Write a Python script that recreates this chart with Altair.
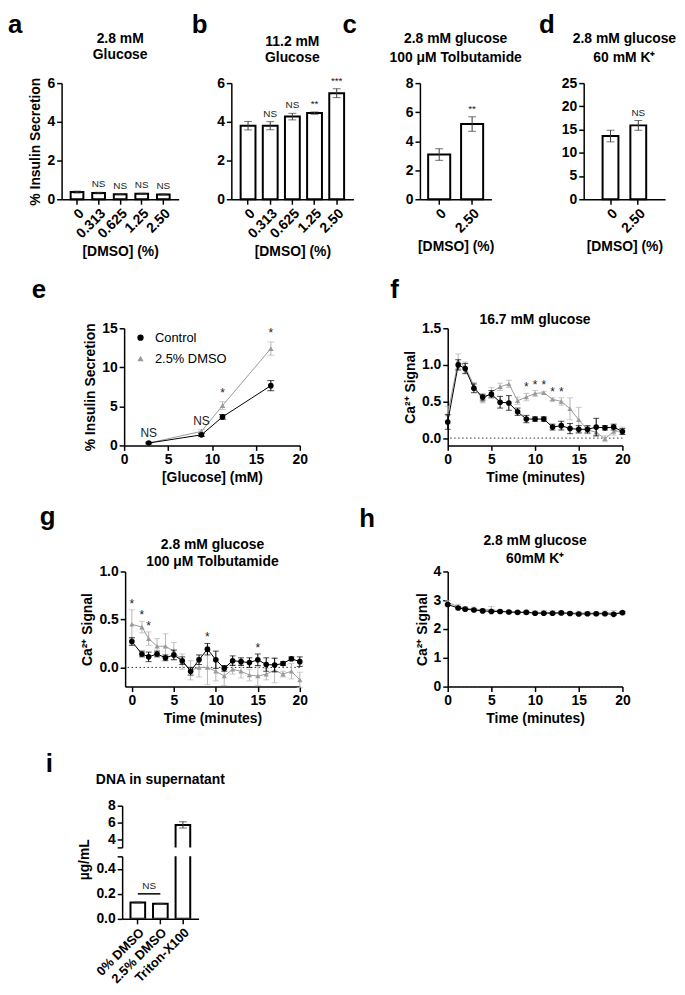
import altair as alt
import pandas as pd

FONT = "Liberation Sans"
BLACK = "#000000"
GRAY = "#9a9a9a"
GRAY_ERR = "#b5b5b5"
ERR_DARK = "#3a3a3a"

# ---------------- data ----------------
dmso_ab = ["0", "0.313", "0.625", "1.25", "2.50"]
a_mean = [0.37, 0.32, 0.26, 0.28, 0.25]
a_err = [0.05, 0.04, 0.03, 0.03, 0.03]
a_sig = ["", "NS", "NS", "NS", "NS"]

b_mean = [3.80, 3.80, 4.27, 4.45, 5.48]
b_err = [0.22, 0.21, 0.17, 0.06, 0.23]
b_sig = ["", "NS", "NS", "**", "***"]

dmso_cd = ["0", "2.50"]
c_mean = [3.08, 5.18]
c_err = [0.40, 0.50]
c_sig = ["", "**"]

d_mean = [13.6, 15.9]
d_err = [1.25, 1.05]
d_sig = ["", "NS"]

glucose = [2.8, 8.8, 11.2, 16.7]
e_ctrl = [0.30, 1.35, 3.65, 7.65]
e_ctrl_err = [0.10, 0.20, 0.30, 0.65]
e_dmso = [0.30, 1.80, 5.10, 12.40]
e_dmso_err = [0.10, 0.20, 0.50, 0.85]
e_sig = ["NS", "NS", "*", "*"]
series_names = ["Control", "2.5% DMSO"]

minutes = [0, 1.2, 2, 3, 4, 5, 6, 7, 8, 9, 10, 11, 12, 13, 14, 15, 16, 17, 18, 19, 20]

f_ctrl = [0.22, 1.00, 0.95, 0.68, 0.56, 0.60, 0.49, 0.48, 0.36, 0.26, 0.26,
          0.26, 0.15, 0.17, 0.13, 0.12, 0.12, 0.15, 0.14, 0.15, 0.09]
f_ctrl_err = [0.10, 0.07, 0.07, 0.06, 0.04, 0.05, 0.08, 0.10, 0.05, 0.05, 0.03,
              0.03, 0.04, 0.06, 0.07, 0.05, 0.05, 0.12, 0.03, 0.04, 0.04]
f_dmso = [0.33, 1.05, 0.97, 0.72, 0.52, 0.63, 0.70, 0.74, 0.51, 0.56, 0.61,
          0.62, 0.53, 0.50, 0.40, 0.25, 0.11, 0.08, -0.01, 0.09, 0.10]
f_dmso_err = [0.10, 0.10, 0.07, 0.04, 0.04, 0.06, 0.05, 0.05, 0.05, 0.05, 0.04,
              0.02, 0.02, 0.05, 0.15, 0.17, 0.05, 0.05, 0.04, 0.05, 0.05]
f_sig_t = [9, 10, 11, 12, 13]

g_ctrl = [0.27, 0.14, 0.11, 0.14, 0.10, 0.13, 0.07, -0.04, 0.08, 0.19, 0.08,
          -0.01, 0.07, 0.06, 0.05, 0.08, 0.03, 0.025, 0.04, 0.09, 0.06]
g_ctrl_err = [0.04, 0.03, 0.05, 0.03, 0.03, 0.05, 0.04, 0.04, 0.05, 0.06, 0.09,
              0.03, 0.05, 0.04, 0.05, 0.06, 0.07, 0.07, 0.02, 0.02, 0.05]
g_dmso = [0.45, 0.42, 0.30, 0.22, 0.22, 0.17, 0.06, -0.03, 0.00, 0.00, -0.04,
          -0.09, -0.02, -0.04, -0.08, -0.09, -0.07, -0.03, -0.07, -0.04, -0.13]
g_dmso_err = [0.15, 0.06, 0.07, 0.08, 0.13, 0.09, 0.08, 0.10, 0.10, 0.18, 0.10,
              0.10, 0.05, 0.07, 0.06, 0.10, 0.06, 0.13, 0.03, 0.08, 0.08]
g_sig_t = [0, 1.2, 2, 9, 15]

h_ctrl = [2.85, 2.73, 2.69, 2.66, 2.63, 2.61, 2.61, 2.59, 2.58, 2.58, 2.55,
          2.55, 2.55, 2.56, 2.54, 2.52, 2.53, 2.53, 2.53, 2.51, 2.57]
h_ctrl_err = [0.04, 0.03, 0.03, 0.03, 0.03, 0.03, 0.03, 0.03, 0.03, 0.03, 0.03,
              0.03, 0.03, 0.03, 0.03, 0.03, 0.03, 0.03, 0.03, 0.03, 0.03]
h_dmso = [2.92, 2.78, 2.72, 2.70, 2.66, 2.68, 2.62, 2.60, 2.58, 2.58, 2.57,
          2.58, 2.57, 2.57, 2.56, 2.56, 2.55, 2.55, 2.56, 2.56, 2.56]
h_dmso_err = [0.07, 0.08, 0.06, 0.06, 0.05, 0.10, 0.05, 0.05, 0.05, 0.07, 0.06,
              0.07, 0.07, 0.06, 0.05, 0.06, 0.06, 0.05, 0.07, 0.08, 0.05]

i_cats = ["0% DMSO", "2.5% DMSO", "Triton-X100"]
i_mean = [0.13, 0.12, 5.70]
i_err = [0.004, 0.004, 0.38]


# ---------------- helpers ----------------
def with_err(key, xs, ys, es):
    return pd.DataFrame({key: xs, "y": ys,
                         "lo": [v - e for v, e in zip(ys, es)],
                         "hi": [v + e for v, e in zip(ys, es)]})


def letter(ch, x, y, baseline="alphabetic"):
    return alt.Chart(pd.DataFrame({"L": [ch]})).mark_text(
        font=FONT, fontSize=26, fontWeight="bold", align="left",
        baseline=baseline, color="black"
    ).encode(text="L:N", x=alt.value(x), y=alt.value(y))


def guide(y1, y2):
    # white, practically invisible rule fixing a row's vertical extent
    return alt.Chart(pd.DataFrame({"g": [0]})).mark_rule(
        color="white", strokeWidth=0.5).encode(
        x=alt.value(1), y=alt.value(y1), y2=alt.value(y2))


def spacer(width, layers, height=1):
    return alt.layer(*layers).properties(width=width, height=height)


def bar_panel(cats, mean, err, sig, ymax, yticks, width, height, title,
              tline, toff, ytitle, pin, pout):
    df = with_err("cat", cats, mean, err)
    df["sig"] = sig
    xsc = alt.Scale(domain=cats, paddingInner=pin, paddingOuter=pout)
    ysc = alt.Scale(domain=[0, ymax], nice=False)
    X = alt.X("cat:N", sort=cats, scale=xsc,
              axis=alt.Axis(title="[DMSO] (%)", labelAngle=-45))

    def Y(f):
        return alt.Y(f, scale=ysc, axis=alt.Axis(values=yticks, title=ytitle))

    base = alt.Chart(df)
    bars = base.mark_bar(fill="white", stroke="black", strokeWidth=2).encode(x=X, y=Y("y:Q"))
    rule = base.mark_rule(color=ERR_DARK, strokeWidth=1).encode(x=X, y=Y("lo:Q"), y2="hi:Q")
    caps = [base.mark_tick(color=ERR_DARK, size=8, thickness=1, orient="horizontal").encode(
        x=X, y=Y(f)) for f in ["lo:Q", "hi:Q"]]
    txt = base.mark_text(font=FONT, fontSize=10, baseline="alphabetic", dy=-5,
                         color="#222222").encode(x=X, y=Y("hi:Q"), text="sig:N")
    return alt.layer(bars, rule, *caps, txt).properties(
        width=width, height=height,
        title=alt.TitleParams(text=title, offset=toff, lineHeight=tline))


def series_layers(df, X, Y, color, ecolor, cap):
    c = alt.Chart(df)
    return [
        c.mark_rule(color=ecolor, strokeWidth=1).encode(x=X, y=Y("lo:Q"), y2="hi:Q"),
        c.mark_tick(color=ecolor, size=cap, thickness=1, orient="horizontal").encode(x=X, y=Y("lo:Q")),
        c.mark_tick(color=ecolor, size=cap, thickness=1, orient="horizontal").encode(x=X, y=Y("hi:Q")),
        c.mark_line(color=color, strokeWidth=1).encode(x=X, y=Y("y:Q")),
    ]


def ts_panel(ctrl, ctrl_err, dmso, dmso_err, sig_t, xdom, ydom, yticks, yfmt,
             width, height, title, tline, toff):
    xsc = alt.Scale(domain=xdom, nice=False, zero=False)
    ysc = alt.Scale(domain=ydom, nice=False, zero=False)
    dfc = with_err("x", minutes, ctrl, ctrl_err)
    dfd = with_err("x", minutes, dmso, dmso_err)
    X = alt.X("x:Q", scale=xsc, axis=alt.Axis(values=[0, 5, 10, 15, 20], title="Time (minutes)"))

    def Y(f):
        return alt.Y(f, scale=ysc, axis=alt.Axis(values=yticks, format=yfmt, title="Ca²⁺ Signal"))

    zero = alt.Chart(pd.DataFrame({"y": [0]})).mark_rule(
        strokeDash=[1.5, 2.5], color="#333333", strokeWidth=1).encode(y=Y("y:Q"))
    layers = [zero]
    layers += series_layers(dfd, X, Y, GRAY, GRAY_ERR, 6)
    layers.append(alt.Chart(dfd).mark_point(shape="triangle-up", filled=True, color=GRAY,
                                            size=28, opacity=1).encode(x=X, y=Y("y:Q")))
    layers += series_layers(dfc, X, Y, BLACK, BLACK, 6)
    layers.append(alt.Chart(dfc).mark_point(shape="circle", filled=True, color=BLACK,
                                            size=32, opacity=1).encode(x=X, y=Y("y:Q")))
    if sig_t:
        sx, sy = [], []
        for t in sig_t:
            k = minutes.index(t)
            sx.append(t)
            sy.append(max(dfc["hi"][k], dfd["hi"][k]))
        sdf = pd.DataFrame({"x": sx, "y": sy, "s": ["*"] * len(sx)})
        layers.append(alt.Chart(sdf).mark_text(font=FONT, fontSize=12, baseline="alphabetic",
                                               dy=-2, color="#222222").encode(
            x=X, y=Y("y:Q"), text="s:N"))
    return alt.layer(*layers).properties(
        width=width, height=height,
        title=alt.TitleParams(text=title, offset=toff, lineHeight=tline))


# ---------------- row 1: a-d ----------------
pa = bar_panel(dmso_ab, a_mean, a_err, a_sig, 6, [0, 2, 4, 6], 118, 117,
               ["2.8 mM", "Glucose"], 16, 14, "% Insulin Secretion", 0.41, 0.42)
pb = bar_panel(dmso_ab, b_mean, b_err, b_sig, 6, [0, 2, 4, 6], 123, 117,
               ["11.2 mM", "Glucose"], 16, 11, None, 0.33, 0.42)
pc = bar_panel(dmso_cd, c_mean, c_err, c_sig, 8, [0, 2, 4, 6, 8], 72, 117,
               ["2.8 mM glucose", "100 μM Tolbutamide"], 19, 11, None, 0.33, 0.25)
pd_ = bar_panel(dmso_cd, d_mean, d_err, d_sig, 25, [0, 5, 10, 15, 20, 25], 82, 117,
                ["2.8 mM glucose", "60 mM K⁺"], 19, 11, None, 0.43, 0.68)

TOP = -71
row1 = alt.hconcat(
    spacer(54, [guide(TOP, 177), letter("a", 0, TOP, "top")]),
    pa,
    spacer(53, [letter("b", 13, TOP, "top")]),
    pb,
    spacer(67, [letter("c", -11, TOP, "top")]),
    pc,
    spacer(93, [letter("d", 48, TOP, "top")]),
    pd_,
    spacing=0, bounds="flush")

# ---------------- row 2: e, f ----------------
xsc_e = alt.Scale(domain=[0, 20], nice=False)
ysc_e = alt.Scale(domain=[0, 15], nice=False)
df_ec = with_err("x", glucose, e_ctrl, e_ctrl_err)
df_ed = with_err("x", glucose, e_dmso, e_dmso_err)
Xe = alt.X("x:Q", scale=xsc_e, axis=alt.Axis(values=[0, 5, 10, 15, 20], title="[Glucose] (mM)"))


def Ye(f):
    return alt.Y(f, scale=ysc_e, axis=alt.Axis(values=[0, 5, 10, 15], title="% Insulin Secretion"))


e_layers = []
e_layers += series_layers(df_ed, Xe, Ye, GRAY, GRAY_ERR, 7)
e_layers += series_layers(df_ec, Xe, Ye, BLACK, BLACK, 7)
pts = pd.concat([df_ed.assign(series=series_names[1]), df_ec.assign(series=series_names[0])])
leg = alt.Legend(title=None, orient="none", legendX=10, legendY=3, labelFont=FONT,
                 labelFontSize=13, labelFontWeight="normal", labelColor="black",
                 symbolSize=40, rowPadding=7, labelOffset=8)
e_layers.append(alt.Chart(pts).mark_point(filled=True, size=32, opacity=1).encode(
    x=Xe, y=Ye("y:Q"),
    color=alt.Color("series:N", scale=alt.Scale(domain=series_names, range=[BLACK, GRAY]), legend=leg),
    shape=alt.Shape("series:N", scale=alt.Scale(domain=series_names, range=["circle", "triangle-up"]), legend=leg)))
e_sig_df = pd.DataFrame({"x": glucose,
                         "y": [max(a, b) for a, b in zip(df_ec["hi"], df_ed["hi"])],
                         "s": e_sig})
e_layers.append(alt.Chart(e_sig_df).mark_text(font=FONT, fontSize=12, baseline="middle",
                                              dy=-9, color="#222222").encode(
    x=Xe, y=Ye("y:Q"), text="s:N"))
pe = alt.layer(*e_layers).properties(width=177, height=118)

pf = ts_panel(f_ctrl, f_ctrl_err, f_dmso, f_dmso_err, f_sig_t, [0, 20], [-0.1, 1.5],
              [0, 0.5, 1.0, 1.5], ".1f", 176, 118, "16.7 mM glucose", 16, -6)

row2 = alt.hconcat(
    spacer(117, [guide(-68, 163), letter("e", 24, -31)]),
    pe,
    spacer(149, [letter("f", 91, -31)]),
    pf,
    spacing=0, bounds="flush").resolve_scale(color="independent", shape="independent")

# ---------------- row 3: g, h ----------------
pg = ts_panel(g_ctrl, g_ctrl_err, g_dmso, g_dmso_err, g_sig_t, [-0.8, 20], [-0.2, 1.0],
              [0, 0.5, 1.0], ".1f", 176, 116,
              ["2.8 mM glucose", "100 μM Tolbutamide"], 18, -5)
ph = ts_panel(h_ctrl, h_ctrl_err, h_dmso, h_dmso_err, [], [0, 20], [0, 4],
              [0, 1, 2, 3, 4], "d", 176, 116,
              ["2.8 mM glucose", "60mM K⁺"], 18, -1)

row3 = alt.hconcat(
    spacer(118, [guide(-80, 161), letter("g", 32, -47)]),
    pg,
    spacer(149, [letter("h", 60, -45)]),
    ph,
    spacing=0, bounds="flush")

# ---------------- row 4: i (broken axis) ----------------
df_i = with_err("cat", i_cats, i_mean, i_err)
xsc_i = alt.Scale(domain=i_cats, paddingInner=0.35, paddingOuter=0.37)
ysc_it = alt.Scale(domain=[3, 8], nice=False, zero=False)
ysc_ib = alt.Scale(domain=[0, 0.5], nice=False)

Xi_top = alt.X("cat:N", sort=i_cats, scale=xsc_i, axis=None)
Xi_bot = alt.X("cat:N", sort=i_cats, scale=xsc_i,
               axis=alt.Axis(title=None, labelAngle=-45, labelFontSize=13))


def Yi_top(f):
    return alt.Y(f, scale=ysc_it, axis=alt.Axis(values=[3, 4, 6, 8], title=None,
                                                labelExpr="datum.value == 3 ? '' : datum.label"))


def Yi_bot(f):
    return alt.Y(f, scale=ysc_ib, axis=alt.Axis(values=[0, 0.2, 0.4, 0.5], format=".1f",
                                                title="µg/mL", titleY=3,
                                                labelExpr="datum.value == 0.5 ? '' : datum.label"))


def i_layers(X, Y):
    c = alt.Chart(df_i)
    return [
        c.mark_bar(fill="white", stroke="black", strokeWidth=2, clip=True).encode(x=X, y=Y("y:Q")),
        c.mark_rule(color=ERR_DARK, strokeWidth=1, clip=True).encode(x=X, y=Y("lo:Q"), y2="hi:Q"),
        c.mark_tick(color=ERR_DARK, size=8, thickness=1, orient="horizontal", clip=True).encode(
            x=X, y=Y("lo:Q")),
        c.mark_tick(color=ERR_DARK, size=8, thickness=1, orient="horizontal", clip=True).encode(
            x=X, y=Y("hi:Q")),
    ]


i_top = alt.layer(*i_layers(Xi_top, Yi_top)).properties(
    width=77, height=42, title=alt.TitleParams(text="DNA in supernatant", offset=12))

ns_df = pd.DataFrame({"cat": [i_cats[0]], "b": [i_cats[1]], "y": [0.2], "t": ["NS"]})
i_bot_layers = i_layers(Xi_bot, Yi_bot)
i_bot_layers.append(alt.Chart(ns_df).mark_rule(color="black", strokeWidth=1.5).encode(
    x=Xi_bot, x2="b:N", y=Yi_bot("y:Q")))
i_bot_layers.append(alt.Chart(ns_df).mark_text(font=FONT, fontSize=10, baseline="alphabetic",
                                               dy=-5, dx=11.5, color="#222222").encode(
    x=Xi_bot, y=Yi_bot("y:Q"), text="t:N"))
i_bot = alt.layer(*i_bot_layers).properties(width=77, height=63)

i_stack = alt.vconcat(i_top, i_bot, spacing=9, bounds="flush")
row4 = alt.hconcat(
    spacer(115, [guide(-73, 0), letter("i", 38, -34)]),
    i_stack,
    spacing=0, bounds="flush")

# ---------------- assemble ----------------
chart = alt.vconcat(row1, row2, row3, row4, spacing=0).properties(
    padding=0, background="white"
).configure(font=FONT).configure_view(stroke=None).configure_axis(
    domainColor="black", domainWidth=1.5, tickColor="black", tickWidth=1.5, tickSize=5,
    labelFont=FONT, labelFontSize=14, labelFontWeight="bold", labelColor="black",
    labelPadding=2, labelFlush=False, labelOverlap=False,
    titleFont=FONT, titleFontSize=14, titleFontWeight="bold", titleColor="black",
    grid=False
).configure_title(
    font=FONT, fontSize=14, fontWeight="bold", color="black", anchor="middle", frame="group"
)

chart.save("out.html", embed_options={"renderer": "svg", "actions": False})
